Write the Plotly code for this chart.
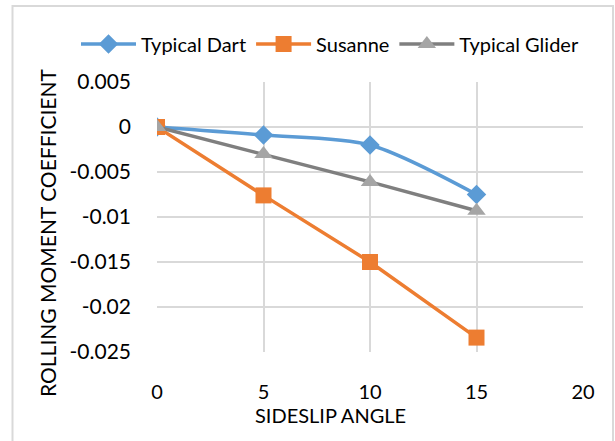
import plotly.graph_objects as go

angles = [0, 5, 10, 15]
dart = [0.0, -0.0009, -0.002, -0.0075]
susanne = [0.0, -0.0076, -0.015, -0.0234]
glider = [0.0, -0.003, -0.0061, -0.0093]
x_ticks = [0, 5, 10, 15, 20]
y_ticks = [0.005, 0, -0.005, -0.01, -0.015, -0.02, -0.025]
y_tick_text = ["0.005", "0", "-0.005", "-0.01", "-0.015", "-0.02", "-0.025"]

W, H = 615, 441
L, R, T, B = 157, 583, 82, 352

def px(x):
    return (x - L) / (R - L)

def py(y):
    return (B - y) / (B - T)

FONT = "Lato, Carlito, Calibri, sans-serif"

fig = go.Figure()
fig.add_trace(go.Scatter(x=angles, y=dart, name="Typical Dart", mode="lines+markers",
                         line=dict(color="#5B9BD5", width=3.5, shape="spline", smoothing=0.8),
                         marker=dict(symbol="diamond", size=15, color="#5B9BD5")))
fig.add_trace(go.Scatter(x=angles, y=susanne, name="Susanne", mode="lines+markers",
                         line=dict(color="#ED7D31", width=3.5),
                         marker=dict(symbol="square", size=16, color="#ED7D31")))
fig.add_trace(go.Scatter(x=angles, y=glider, name="Typical Glider", mode="lines+markers",
                         line=dict(color="#7F7F7F", width=3.5),
                         marker=dict(symbol="triangle-up", size=16, color="#A5A5A5")))

fig.update_layout(
    width=W, height=H,
    margin=dict(l=L, r=W - R, t=T, b=H - B),
    paper_bgcolor="white", plot_bgcolor="white",
    font=dict(family=FONT, size=20, color="#000000"),
    showlegend=True,
    legend=dict(orientation="h", xref="paper", yref="paper",
                x=px(76), y=py(44), xanchor="left", yanchor="middle",
                font=dict(size=20), itemwidth=55, tracegroupgap=0,
                bgcolor="rgba(0,0,0,0)"),
    xaxis=dict(range=[0, 20], tickvals=x_ticks, ticktext=[str(v) for v in x_ticks],
               showgrid=True, gridcolor="#D9D9D9", gridwidth=1.5, zeroline=False,
               showline=False, ticks="", ticklabelstandoff=26,
               tickfont=dict(size=20)),
    yaxis=dict(range=[-0.025, 0.005], tickvals=y_ticks, ticktext=y_tick_text,
               showgrid=True, gridcolor="#D9D9D9", gridwidth=1.5, zeroline=False,
               showline=False, ticks="", ticklabelstandoff=25,
               tickfont=dict(size=21)),
    shapes=[dict(type="rect", xref="paper", yref="paper",
                 x0=px(12.5), x1=px(613), y0=py(445), y1=py(6),
                 line=dict(color="#D9D9D9", width=2), layer="below")],
    annotations=[
        dict(text="ROLLING MOMENT COEFFICIENT", xref="paper", yref="paper",
             x=px(47), y=py(233), textangle=-90, showarrow=False,
             xanchor="center", yanchor="middle", font=dict(size=21)),
        dict(text="SIDESLIP ANGLE", xref="paper", yref="paper",
             x=px(330), y=py(415), showarrow=False,
             xanchor="center", yanchor="middle", font=dict(size=20)),
    ],
)

fig.write_html("out.html", post_script="document.body.style.margin='0';",
               config={"displayModeBar": False})
